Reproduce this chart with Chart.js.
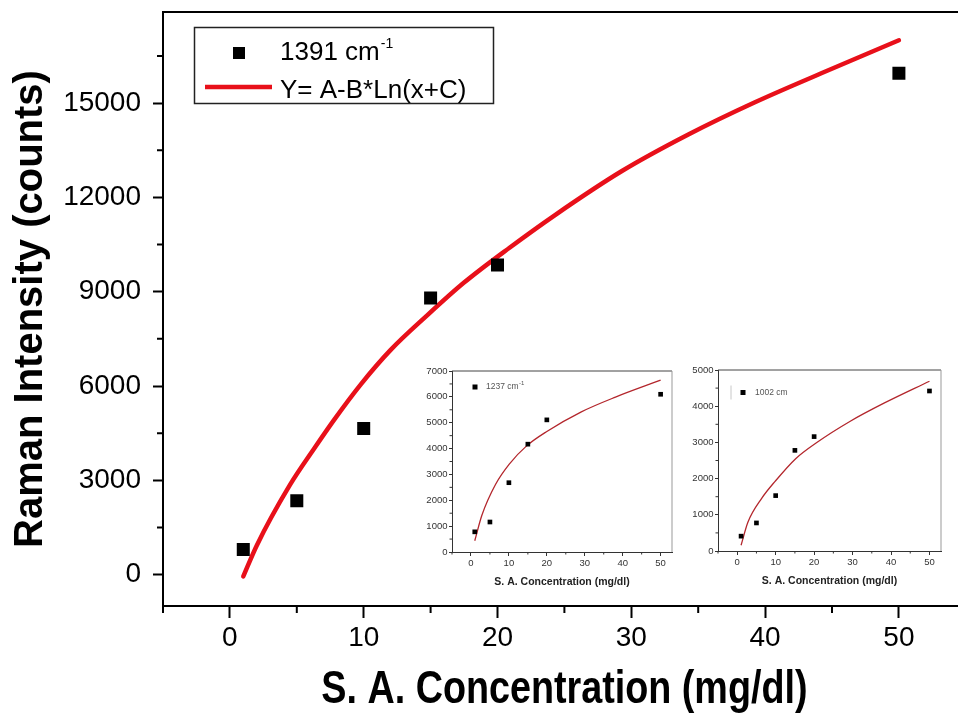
<!DOCTYPE html>
<html>
<head>
<meta charset="utf-8">
<title>Raman Intensity vs S. A. Concentration</title>
<script src="https://cdn.jsdelivr.net/npm/chart.js@4.4.1/dist/chart.umd.min.js"></script>
<style>
  html, body { margin: 0; padding: 0; background: #fff; overflow: hidden; }
  #wrap { position: relative; width: 958px; height: 715px; overflow: hidden; }
  #main { position: absolute; left: 0; top: 0; }
  .inset { position: absolute; background: #fff; }
  #inset1 { left: 405px; top: 360px; }
  #inset2 { left: 675px; top: 359px; }
</style>
</head>
<body>
<div id="wrap">
  <canvas id="main" width="975" height="715"></canvas>
  <canvas id="inset1" class="inset" width="280" height="232"></canvas>
  <canvas id="inset2" class="inset" width="280" height="232"></canvas>
</div>
<script>
// Concentrations (mg/dl) shared by all three bands
const concentracion = [1, 5, 10, 15, 20, 50];

// Main plot: 1391 cm-1 band
const raman1391 = [800, 2350, 4650, 8800, 9850, 15950];
// fitted curve
const ajusteX1391 = [1, 2, 4.5, 6.3, 7.8, 9.8, 12, 14.7, 17.5, 20.9, 24.3, 29.3, 34.3, 39.2, 44.2, 50];
const ajuste1391 = [-60, 920, 2860, 4010, 4930, 6060, 7140, 8230, 9290, 10400, 11440, 12840, 14010, 15020, 15950, 17000];

// Inset 1: 1237 cm-1 band
const raman1237 = [780, 1160, 2680, 4170, 5110, 6100];
const ajusteX1237 = [1, 2.9, 6.5, 10.1, 14.6, 20, 29.1, 38.1, 50];
const ajuste1237 = [436, 1430, 2620, 3400, 4095, 4660, 5420, 5990, 6645];

// Inset 2: 1002 cm-1 band
const raman1002 = [410, 775, 1530, 2780, 3160, 4420];
const ajusteX1002 = [1, 2.8, 6.4, 9.9, 15.2, 20.6, 29.4, 38.3, 50];
const ajuste1002 = [160, 800, 1460, 1930, 2550, 2990, 3585, 4090, 4690];

// Tick values
const xTicks = [0, 10, 20, 30, 40, 50];
const xMinor = [-5, 5, 15, 25, 35, 45, 55];
const yTicks = [0, 3000, 6000, 9000, 12000, 15000];
const yMinor = [1500, 4500, 7500, 10500, 13500, 16500];
const insetXMinor = [-5, 5, 15, 25, 35, 45];
const yTicks1237 = [0, 1000, 2000, 3000, 4000, 5000, 6000, 7000];
const yMinor1237 = [500, 1500, 2500, 3500, 4500, 5500, 6500];
const yTicks1002 = [0, 1000, 2000, 3000, 4000, 5000];
const yMinor1002 = [500, 1500, 2500, 3500, 4500];

const leyendaMain = ['1391 cm', 'Y= A-B*Ln(x+C)'];
const tituloX = 'S. A. Concentration (mg/dl)';

const FONT = "'Liberation Sans', Arial, sans-serif";

function toPoints(xs, ys) {
    return xs.map((x, i) => ({ x: x, y: ys[i] }));
}

// minor ticks, top/right frame and the hand drawn legend
const framePlugin = {
    id: 'frame',
    afterDraw(chart, args, o) {
        const ctx = chart.ctx;
        const a = chart.chartArea;
        const sx = chart.scales.x, sy = chart.scales.y;
        ctx.save();
        ctx.strokeStyle = o.tickColor;
        ctx.lineWidth = o.tickWidth;
        ctx.beginPath();
        o.xMinor.forEach(v => {
            const px = sx.getPixelForValue(v);
            if (px < a.left - 1 || px > a.right + 1) return;
            ctx.moveTo(px, a.bottom);
            ctx.lineTo(px, a.bottom + o.xMinorLen);
        });
        o.yMinor.forEach(v => {
            const py = sy.getPixelForValue(v);
            ctx.moveTo(a.left, py);
            ctx.lineTo(a.left - o.yMinorLen, py);
        });
        ctx.stroke();

        ctx.lineWidth = o.frameWidth;
        ctx.strokeStyle = o.topColor;
        ctx.beginPath();
        ctx.moveTo(a.left, a.top);
        ctx.lineTo(a.right, a.top);
        ctx.stroke();
        ctx.strokeStyle = o.rightColor;
        ctx.beginPath();
        ctx.moveTo(a.right, a.top);
        ctx.lineTo(a.right, a.bottom);
        ctx.stroke();

        if (o.legend) o.legend(ctx, chart);
        ctx.restore();
    }
};

function drawMainLegend(ctx, chart) {
    ctx.strokeStyle = '#222';
    ctx.lineWidth = 1.5;
    ctx.strokeRect(194.5, 27.5, 299, 76);
    ctx.fillStyle = '#000';
    ctx.fillRect(233, 47, 12, 12);
    ctx.font = '26px ' + FONT;
    ctx.textBaseline = 'alphabetic';
    ctx.textAlign = 'left';
    ctx.fillText(leyendaMain[0], 280, 60);
    const w = ctx.measureText(leyendaMain[0]).width;
    ctx.font = '14px ' + FONT;
    ctx.fillText('-1', 281 + w, 48);
    ctx.strokeStyle = '#e8101a';
    ctx.lineWidth = 4.5;
    ctx.beginPath();
    ctx.moveTo(205, 87);
    ctx.lineTo(272, 87);
    ctx.stroke();
    ctx.font = '26px ' + FONT;
    ctx.fillText(leyendaMain[1], 280, 98);

    // x axis title, in a condensed bold face like the original
    const a = chart.chartArea;
    ctx.save();
    ctx.translate((a.left + a.right) / 2, 690);
    ctx.scale(0.82, 1);
    ctx.font = 'bold 46px ' + FONT;
    ctx.textAlign = 'center';
    ctx.textBaseline = 'middle';
    ctx.fillStyle = '#000';
    ctx.fillText(tituloX, 0, 0);
    ctx.restore();
}

function insetLegend(label, sup, mx, my, tx, bar) {
    return function(ctx) {
        if (bar) {
            ctx.strokeStyle = '#c8c8c8';
            ctx.lineWidth = 1;
            ctx.beginPath();
            ctx.moveTo(bar, my - 7);
            ctx.lineTo(bar, my + 7);
            ctx.stroke();
        }
        ctx.fillStyle = '#000';
        ctx.fillRect(mx - 2.5, my - 2.5, 5, 5);
        ctx.fillStyle = '#555';
        ctx.font = '8.5px ' + FONT;
        ctx.textBaseline = 'middle';
        ctx.textAlign = 'left';
        ctx.fillText(label, tx, my);
        if (sup) {
            const w = ctx.measureText(label).width;
            ctx.font = '6px ' + FONT;
            ctx.fillText(sup, tx + w + 0.5, my - 3.5);
        }
    };
}

const fmt = v => String(v);

new Chart(document.getElementById('main'), {
    type: 'scatter',
    data: {
        datasets: [
            {
                label: '1391 cm-1',
                data: toPoints(concentracion, raman1391),
                pointStyle: 'rect',
                pointRadius: 9.2,
                backgroundColor: '#000',
                borderWidth: 0,
                order: 0
            },
            {
                label: 'Y= A-B*Ln(x+C)',
                data: toPoints(ajusteX1391, ajuste1391),
                showLine: true,
                pointRadius: 0,
                borderColor: '#e8101a',
                borderWidth: 4.5,
                borderCapStyle: 'round',
                cubicInterpolationMode: 'monotone',
                order: 1
            }
        ]
    },
    options: {
        responsive: false,
        animation: false,
        devicePixelRatio: 1,
        layout: { padding: { top: 12, right: 7, left: 0, bottom: 0 } },
        plugins: {
            legend: { display: false },
            tooltip: { enabled: false },
            frame: {
                tickColor: '#000', tickWidth: 2, xMinorLen: 7, yMinorLen: 6,
                xMinor: xMinor, yMinor: yMinor,
                frameWidth: 2, topColor: '#000', rightColor: '#000',
                legend: drawMainLegend
            }
        },
        scales: {
            x: {
                type: 'linear', min: -5, max: 55,
                afterBuildTicks: s => { s.ticks = xTicks.map(v => ({ value: v })); },
                afterFit: s => { s.height = 109; s.paddingLeft = 0; s.paddingRight = 0; },
                grid: { drawOnChartArea: false, color: '#000', tickLength: 12, tickWidth: 2 },
                border: { color: '#000', width: 2 },
                ticks: { color: '#000', font: { family: FONT, size: 28 }, padding: 3, callback: fmt },
                title: { display: false }
            },
            y: {
                type: 'linear', min: -1000, max: 17900,
                afterBuildTicks: s => { s.ticks = yTicks.map(v => ({ value: v })); },
                afterFit: s => { s.width = 163; s.paddingTop = 0; s.paddingBottom = 0; },
                grid: { drawOnChartArea: false, color: '#000', tickLength: 10, tickWidth: 2 },
                border: { color: '#000', width: 2 },
                ticks: { color: '#000', font: { family: FONT, size: 28 }, padding: 12, callback: fmt },
                title: {
                    display: true, text: 'Raman Intensity (counts)', color: '#000',
                    font: { family: FONT, size: 40, weight: 'bold', lineHeight: 1 },
                    padding: { top: 11, bottom: 0 }
                }
            }
        }
    },
    plugins: [framePlugin]
});

function makeInset(id, valores, fitX, fitY, yMax, yT, yM, yWidth, padRight, legend) {
    return new Chart(document.getElementById(id), {
        type: 'scatter',
        data: {
            datasets: [
                {
                    data: toPoints(concentracion, valores),
                    pointStyle: 'rect',
                    pointRadius: 3.3,
                    backgroundColor: '#000',
                    borderWidth: 0,
                    order: 0
                },
                {
                    data: toPoints(fitX, fitY),
                    showLine: true,
                    pointRadius: 0,
                    borderColor: '#b3262c',
                    borderWidth: 1.3,
                    cubicInterpolationMode: 'monotone',
                    order: 1
                }
            ]
        },
        options: {
            responsive: false,
            animation: false,
            devicePixelRatio: 1,
            layout: { padding: { top: 11, right: padRight, left: 0, bottom: 0 } },
            plugins: {
                legend: { display: false },
                tooltip: { enabled: false },
                frame: {
                    tickColor: '#333', tickWidth: 1, xMinorLen: 2.5, yMinorLen: 2.5,
                    xMinor: insetXMinor, yMinor: yM,
                    frameWidth: 1, topColor: '#444', rightColor: '#999',
                    legend: legend
                }
            },
            scales: {
                x: {
                    type: 'linear', min: -5, max: 53,
                    afterBuildTicks: s => { s.ticks = xTicks.map(v => ({ value: v })); },
                    afterFit: s => { s.height = 40; s.paddingLeft = 0; s.paddingRight = 0; },
                    grid: { drawOnChartArea: false, color: '#333', tickLength: 4, tickWidth: 1 },
                    border: { color: '#333', width: 1 },
                    ticks: { color: '#333', font: { family: FONT, size: 9.5 }, padding: 2, callback: fmt },
                    title: {
                        display: true, text: tituloX, color: '#222',
                        font: { family: FONT, size: 10.5, weight: 'bold', lineHeight: 1 },
                        padding: { top: 0, bottom: 5 }
                    }
                },
                y: {
                    type: 'linear', min: 0, max: yMax,
                    afterBuildTicks: s => { s.ticks = yT.map(v => ({ value: v })); },
                    afterFit: s => { s.width = yWidth; s.paddingTop = 0; s.paddingBottom = 0; },
                    grid: { drawOnChartArea: false, color: '#333', tickLength: 3, tickWidth: 1 },
                    border: { color: '#333', width: 1 },
                    ticks: { color: '#333', font: { family: FONT, size: 9.5 }, padding: 1.5, callback: fmt }
                }
            }
        },
        plugins: [framePlugin]
    });
}

makeInset('inset1', raman1237, ajusteX1237, ajuste1237, 7000, yTicks1237, yMinor1237, 47, 13,
    insetLegend('1237 cm', '-1', 70, 27, 81, 0));
makeInset('inset2', raman1002, ajusteX1002, ajuste1002, 5000, yTicks1002, yMinor1002, 43, 14,
    insetLegend('1002 cm', '', 68, 33.5, 80, 56));
</script>
</body>
</html>
